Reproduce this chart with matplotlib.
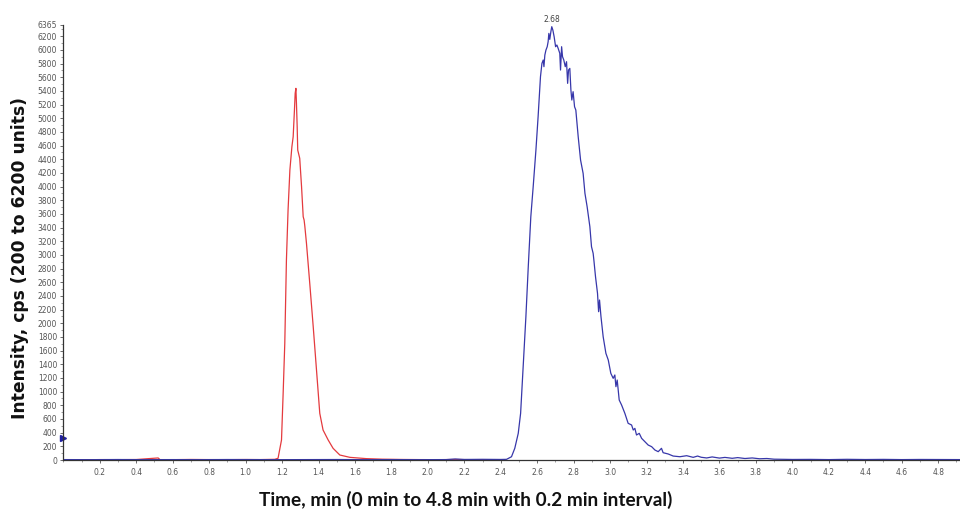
import matplotlib
matplotlib.use("Agg")
from matplotlib import pyplot as plt
from matplotlib.ticker import MultipleLocator, FixedLocator
import numpy as np

# red trace (time in min, intensity in cps)
red_t = [0.00, 0.10, 0.20, 0.30, 0.40, 0.52, 0.53, 0.60, 0.70, 0.80, 0.90, 1.00, 1.08, 1.12,
         1.16, 1.178, 1.197, 1.206, 1.215, 1.224, 1.233, 1.243, 1.254, 1.261, 1.268, 1.272,
         1.276, 1.279, 1.283, 1.286, 1.297, 1.307, 1.316, 1.321, 1.325, 1.334, 1.352, 1.371,
         1.389, 1.407, 1.425, 1.453, 1.480, 1.517, 1.572, 1.663, 1.75, 1.85, 1.95, 2.05,
         2.15, 2.25, 2.35]
red_I = [5, 4, 6, 5, 7, 30, 6, 5, 8, 6, 5, 7, 6, 8,
         10, 25, 293, 975, 1707, 2926, 3658, 4243, 4584, 4730, 5120, 5365,
         5438, 5219, 4877, 4535, 4414, 3999, 3560, 3511, 3420, 3170, 2585, 1950,
         1317, 683, 439, 293, 171, 73, 39, 20, 12, 8, 6, 5,
         7, 5, 4]

# blue trace
blue_t = [0.00, 0.15, 0.30, 0.45, 0.60, 0.75, 0.90, 1.05, 1.20, 1.35, 1.50, 1.65, 1.80, 1.95,
          2.10, 2.15, 2.20, 2.30, 2.40, 2.432, 2.459, 2.477, 2.496, 2.509, 2.523, 2.538,
          2.551, 2.565, 2.578, 2.593, 2.605, 2.618, 2.626, 2.633, 2.637, 2.642, 2.648, 2.655,
          2.660, 2.664, 2.669, 2.675, 2.680, 2.686, 2.693, 2.701, 2.708, 2.715, 2.724, 2.728,
          2.734, 2.739, 2.746, 2.754, 2.761, 2.767, 2.772, 2.779, 2.785, 2.790, 2.797, 2.805,
          2.812, 2.825, 2.838, 2.852, 2.862, 2.874, 2.889, 2.898, 2.907, 2.911, 2.920, 2.931,
          2.937, 2.942, 2.950, 2.962, 2.977, 2.990, 3.004, 3.017, 3.026, 3.032, 3.039, 3.050,
          3.063, 3.081, 3.099, 3.118, 3.127, 3.136, 3.145, 3.160, 3.173, 3.191, 3.209, 3.228,
          3.246, 3.264, 3.282, 3.291, 3.319, 3.346, 3.383, 3.420, 3.456, 3.480, 3.50, 3.53,
          3.56, 3.60, 3.63, 3.67, 3.70, 3.74, 3.78, 3.82, 3.86, 3.90, 3.95, 4.00,
          4.10, 4.20, 4.30, 4.40, 4.50, 4.60, 4.70, 4.80, 4.92]
blue_I = [6, 5, 7, 5, 6, 5, 7, 6, 5, 6, 7, 5, 6, 5,
          6, 15, 8, 10, 8, 10, 48, 171, 390, 683, 1365, 2097,
          2828, 3560, 3999, 4535, 5023, 5608, 5803, 5852, 5755, 5925, 5998, 6047,
          6120, 6242, 6154, 6266, 6340, 6290, 6193, 6047, 6072, 6023, 5950, 5706,
          6047, 5901, 5852, 5755, 5828, 5511, 5706, 5730, 5413, 5267, 5389, 5169,
          5120, 4730, 4389, 4194, 3902, 3706, 3414, 3121, 3024, 2926, 2682, 2438,
          2170, 2341, 2097, 1804, 1561, 1463, 1268, 1195, 1244, 1073, 1170, 878,
          805, 683, 537, 512, 439, 463, 366, 390, 317, 268, 219, 195,
          146, 122, 171, 107, 88, 58, 48, 63, 39, 58, 40, 30,
          45, 28, 38, 25, 35, 22, 30, 18, 22, 12, 10, 8,
          9, 6, 10, 7, 9, 6, 8, 7, 6]

y_ticks = list(range(0, 6201, 200)) + [6365]
x_ticks = np.round(np.arange(0.2, 4.81, 0.2), 1)

fig = plt.figure(figsize=(9.6, 5.13), dpi=100)
ax = fig.add_axes([0.066, 0.1033, 0.934, 0.848])

ax.plot(red_t, red_I, color="#e43a3e", lw=0.9)
ax.plot(blue_t, blue_I, color="#3737aa", lw=0.9)

# retention time label over the tallest peak
k = int(np.argmax(blue_I))
ax.annotate(f"{blue_t[k]:.2f}", xy=(blue_t[k], blue_I[k]), xytext=(0, 2),
            textcoords="offset points", ha="center", va="bottom",
            fontsize=5.5, color="#444444", annotation_clip=False)

# baseline marker on the intensity axis
ax.plot([0], [320], marker=">", color="#2020a0", ms=4, clip_on=False)

ax.set_xlim(0, 4.92)
ax.set_ylim(0, 6365)

ax.xaxis.set_major_locator(FixedLocator(x_ticks))
ax.xaxis.set_minor_locator(MultipleLocator(0.1))
ax.yaxis.set_major_locator(FixedLocator(y_ticks))
ax.yaxis.set_minor_locator(MultipleLocator(100))
ax.tick_params(axis="both", which="major", length=2.5, width=0.6, colors="#555555",
               labelsize=5.5, pad=2)
ax.tick_params(axis="both", which="minor", length=1.5, width=0.5, colors="#777777")
ax.tick_params(axis="x", pad=3.5)
ax.set_xticklabels([f"{v:.1f}" for v in x_ticks])

for side in ["top", "right"]:
    ax.spines[side].set_visible(False)
for side in ["left", "bottom"]:
    ax.spines[side].set_color("#333333")
    ax.spines[side].set_linewidth(0.9)

fig.text(0.021, 0.497, "Intensity, cps (200 to 6200 units)", rotation=90,
         ha="center", va="center", fontsize=12.3, fontweight="bold",
         family="DejaVu Sans", color="#111111")
fig.text(0.485, 0.026, "Time, min (0 min to 4.8 min with 0.2 min interval)",
         ha="center", va="center", fontsize=13.7, fontweight="bold",
         family="Lato", color="#111111")

fig.savefig("out.png", dpi=100)
